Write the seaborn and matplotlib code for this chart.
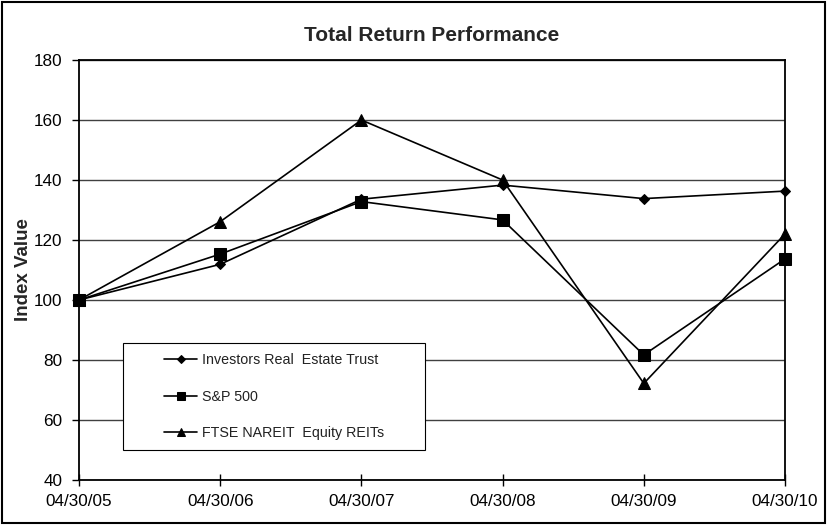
import pandas as pd
import matplotlib.pyplot as plt
import seaborn as sns

# Dados do grafico
datas = ["04/30/05", "04/30/06", "04/30/07", "04/30/08", "04/30/09", "04/30/10"]
iret = [100, 111.9, 133.6, 138.3, 133.8, 136.3]
sp500 = [100, 115.3, 132.8, 126.7, 81.7, 113.7]
ftse = [100, 126.1, 160, 140, 72.2, 122]

nomes = ["Investors Real  Estate Trust", "S&P 500", "FTSE NAREIT  Equity REITs"]

linhas = []
for nome, serie in zip(nomes, [iret, sp500, ftse]):
    for i, v in enumerate(serie):
        linhas.append({"pos": i, "data": datas[i], "serie": nome, "valor": v})
df = pd.DataFrame(linhas)

sns.set_theme(style="white")
plt.rcParams["font.family"] = ["Liberation Sans", "DejaVu Sans"]

fig = plt.figure(figsize=(8.27, 5.25), dpi=100)
ax = fig.add_axes([79 / 827, 1 - 480 / 525, 706 / 827, 420 / 525])

sns.lineplot(data=df, x="pos", y="valor", hue="serie", style="serie",
             palette=["black"] * 3, markers=["D", "s", "^"], dashes=False,
             linewidth=1.2, markersize=7, markeredgecolor="black", ax=ax,
             clip_on=False)

# tamanho dos marcadores por serie
for linha, tam in zip(ax.get_lines()[:3], [5.5, 8, 8]):
    linha.set_markersize(tam)

ax.set_xlim(0, len(datas) - 1)
ax.set_ylim(40, 180)
ax.set_xticks(range(len(datas)))
ax.set_xticklabels(datas)
ax.set_yticks(range(40, 181, 20))
ax.yaxis.grid(True, color="#404040", linewidth=1)
ax.xaxis.grid(False)
ax.set_axisbelow(True)
for s in ax.spines.values():
    s.set_color("black")
    s.set_linewidth(1.3)
ax.tick_params(axis="x", direction="inout", length=8, width=1, labelsize=12.3,
               pad=6, colors="black", bottom=True)
ax.tick_params(axis="y", direction="out", length=5, width=1, labelsize=12.3,
               pad=7, colors="black", left=True)
ax.set_xlabel("")
ax.set_ylabel("Index Value", fontsize=13.5, fontweight="bold")
ax.yaxis.set_label_coords(-0.067, 0.5)
ax.set_title("Total Return Performance", fontsize=15, fontweight="bold", pad=14)

# caixa da legenda desenhada a parte
caixa = plt.Rectangle((0.062, 0.071), 0.428, 0.255, transform=ax.transAxes,
                      facecolor="white", edgecolor="black", linewidth=0.8,
                      zorder=4)
ax.add_patch(caixa)

handles, labels = ax.get_legend_handles_labels()
for h, tam in zip(handles, [4.5, 5.5, 5.5]):
    h.set_markersize(tam)
leg = ax.legend(handles, labels, loc="center left",
                bbox_to_anchor=(0.12, 0.071 + 0.255 / 2),
                frameon=False, fontsize=10.3, labelspacing=1.55,
                handlelength=2.35, borderpad=0, borderaxespad=0,
                handletextpad=0.3)
leg.set_zorder(5)
for t in leg.get_texts():
    t.set_color("#222222")

# moldura externa
fig.patches.append(plt.Rectangle((0.002, 0.003), 0.996, 0.994,
                                 transform=fig.transFigure, fill=False,
                                 edgecolor="black", linewidth=1.5))

plt.savefig("out.png", dpi=100)
